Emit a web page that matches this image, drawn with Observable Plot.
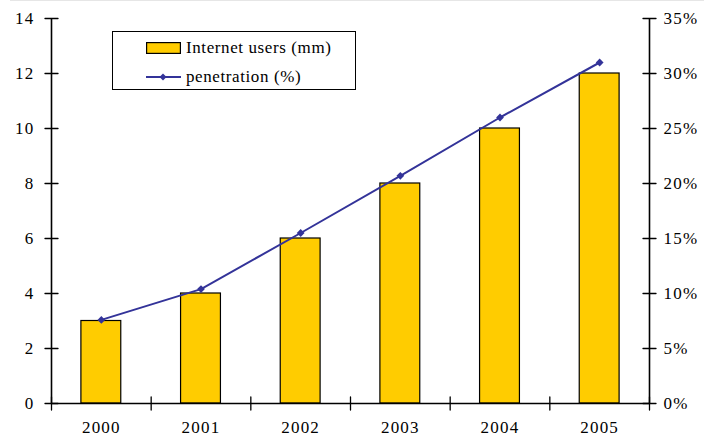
<!DOCTYPE html>
<html>
<head>
<meta charset="utf-8">
<script src="https://cdn.jsdelivr.net/npm/d3@7"></script>
<script src="https://cdn.jsdelivr.net/npm/@observablehq/plot@0.6"></script>
<style>
  html, body { margin: 0; padding: 0; background: #fff; }
  #wrap { position: relative; width: 704px; height: 436px; font-family: "Liberation Serif", "Times New Roman", serif; }
  #topline { position: absolute; left: 10px; right: 0; top: 0; height: 1px; background: #e6e6e6; }
  #legend { position: absolute; left: 112px; top: 31px; width: 244px; height: 59px; box-sizing: border-box;
            border: 1px solid #000; background: #fff; font-size: 17px; letter-spacing: 0.6px; color: #000; }
  #legend .row { position: absolute; left: 33px; height: 20px; display: flex; align-items: center; }
  #legend svg { margin-right: 5px; }
</style>
</head>
<body>
<div id="wrap"><div id="topline"></div></div>
<script>
// Internet users (millions) and penetration (%) by year
const years = [2000, 2001, 2002, 2003, 2004, 2005];
const users = [3, 4, 6, 8, 10, 12];
const penetration = [7.6, 10.4, 15.5, 20.7, 26.0, 31.0];

// Axis ticks
const userTicks = [0, 2, 4, 6, 8, 10, 12, 14];
const pctTicks = [0, 5, 10, 15, 20, 25, 30, 35];
const yearBounds = [1999.5, 2000.5, 2001.5, 2002.5, 2003.5, 2004.5, 2005.5];

const barColor = "#FFCC00";
const lineColor = "#333399";
const serif = "'Liberation Serif', 'Times New Roman', serif";
const pctToUsers = 14 / 35; // right axis (0–35%) shares the left scale (0–14)
const barHalf = 0.2;

const data = years.map((year, i) => ({year, users: users[i], pct: penetration[i]}));

// Straight crossing tick drawn with the vector mark
const tick = (values, opts) => Plot.vector(values, {length: 13, anchor: "middle", shape: "spike", r: 0,
  stroke: "#000", strokeWidth: 1.3, fill: "none", ...opts});

const chart = Plot.plot({
  width: 704,
  height: 436,
  marginLeft: 51,
  marginRight: 55,
  marginTop: 18,
  marginBottom: 33,
  x: {type: "linear", domain: [1999.5, 2005.5], label: null},
  y: {domain: [0, 14], label: null},
  marks: [
    Plot.rectY(data, {x1: d => d.year - barHalf, x2: d => d.year + barHalf, y: "users",
      fill: barColor, stroke: "#000", strokeWidth: 1.2}),
    Plot.ruleY([0], {stroke: "#000", strokeWidth: 1.4}),
    Plot.ruleX([yearBounds[0]], {stroke: "#000", strokeWidth: 1.6}),
    Plot.ruleX([yearBounds[yearBounds.length - 1]], {stroke: "#000", strokeWidth: 1.6}),
    tick(userTicks, {y: d => d, rotate: 90, frameAnchor: "left"}),
    tick(pctTicks, {y: d => d * pctToUsers, rotate: 90, frameAnchor: "right"}),
    tick(yearBounds, {x: d => d, rotate: 0, frameAnchor: "bottom"}),
    Plot.axisY({anchor: "left", label: null, ticks: userTicks, tickSize: 0, tickPadding: 17, tickFormat: d => String(d)}),
    Plot.axisY({anchor: "right", label: null, ticks: pctTicks.map(p => p * pctToUsers), tickSize: 0, tickPadding: 14,
      tickFormat: d => `${Math.round(d / pctToUsers)}%`}),
    Plot.axisX({anchor: "bottom", label: null, ticks: years, tickSize: 0, tickPadding: 17, tickFormat: d => String(d)}),
    Plot.line(data, {x: "year", y: d => d.pct * pctToUsers, stroke: lineColor, strokeWidth: 2}),
    Plot.dot(data, {x: "year", y: d => d.pct * pctToUsers, symbol: "diamond2", r: 3.5, fill: lineColor, stroke: "none"})
  ]
});

// Serif tick labels
chart.style.fontFamily = serif;
chart.style.fontSize = "17px";
d3.select(chart).selectAll("text")
  .style("font-family", serif)
  .style("font-size", "17px")
  .style("letter-spacing", "1.2px");

const wrap = document.getElementById("wrap");
wrap.prepend(chart);

// Legend box
const legend = document.createElement("div");
legend.id = "legend";
legend.innerHTML = `
  <div class="row" style="top:6px">
    <svg width="35" height="12"><rect x="0.6" y="0.6" width="33.8" height="10.8" fill="${barColor}" stroke="#000" stroke-width="1.2"/></svg>
    <span>Internet users (mm)</span>
  </div>
  <div class="row" style="top:35px">
    <svg width="35" height="12"><line x1="0" y1="6" x2="35" y2="6" stroke="${lineColor}" stroke-width="2"/>
      <path d="M17,2.5L20.5,6L17,9.5L13.5,6Z" fill="${lineColor}"/></svg>
    <span>penetration (%)</span>
  </div>`;
wrap.appendChild(legend);
</script>
</body>
</html>
